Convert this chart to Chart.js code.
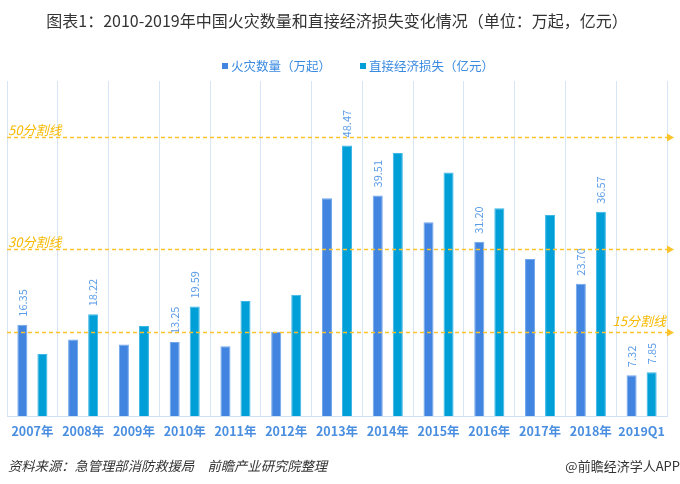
<!DOCTYPE html>
<html>
<head>
<meta charset="utf-8">
<script src="https://cdn.jsdelivr.net/npm/chart.js@4"></script>
<style>
  html, body { margin: 0; padding: 0; background: #fff; }
  #wrap { width: 680px; height: 484px; }
</style>
</head>
<body>
<div id="wrap"><canvas id="myChart" width="680" height="484"></canvas></div>
<script>
const FONT = '"Noto Sans CJK SC", "Noto Sans", sans-serif';

const years = ['2007年', '2008年', '2009年', '2010年', '2011年', '2012年', '2013年',
  '2014年', '2015年', '2016年', '2017年', '2018年', '2019Q1'];
const fireCount = [16.35, 13.7, 12.8, 13.25, 12.5, 15.1, 39.0, 39.51, 34.7, 31.20, 28.1, 23.70, 7.32];
const economicLoss = [11.1, 18.22, 16.1, 19.59, 20.6, 21.7, 48.47, 47.1, 43.6, 37.2, 36.0, 36.57, 7.85];
// which bars carry a value label
const fireLabelIdx = [0, 3, 7, 9, 11, 12];
const lossLabelIdx = [1, 3, 6, 11, 12];
// dashed reference lines
const splitValues = [50, 30, 15];
const splitNames = ['50分割线', '30分割线', '15分割线'];

const blue = '#4285e0';
const cyan = '#009fd8';

// title + legend, drawn by hand so they can sit where the original has them
const header = {
  id: 'header',
  afterDraw(chart) {
    const ctx = chart.ctx;
    ctx.save();
    ctx.fillStyle = '#333';
    ctx.font = '16px ' + FONT;
    ctx.textAlign = 'center';
    ctx.textBaseline = 'middle';
    ctx.fillText('图表1：2010-2019年中国火灾数量和直接经济损失变化情况（单位：万起，亿元）', 337, 21);

    ctx.font = '12.5px ' + FONT;
    ctx.textAlign = 'left';
    let x = 222;
    chart.data.datasets.forEach(ds => {
      ctx.fillStyle = ds.backgroundColor;
      ctx.fillRect(x, 63, 6, 6);
      ctx.fillStyle = '#3a8ae0';
      ctx.fillText(ds.label, x + 9, 66);
      x += 138;
    });
    ctx.restore();
  }
};

// value labels, rotated, above the bars
const valueLabels = {
  id: 'valueLabels',
  afterDatasetsDraw(chart) {
    const ctx = chart.ctx;
    const sets = [fireLabelIdx, lossLabelIdx];
    ctx.save();
    ctx.font = '11px ' + FONT;
    ctx.fillStyle = '#5a9be6';
    ctx.textAlign = 'left';
    ctx.textBaseline = 'middle';
    sets.forEach((idxs, d) => {
      const meta = chart.getDatasetMeta(d);
      idxs.forEach(i => {
        const bar = meta.data[i];
        const v = chart.data.datasets[d].data[i];
        ctx.save();
        ctx.translate(bar.x, bar.y - 8);
        ctx.rotate(-Math.PI / 2);
        ctx.fillText(v.toFixed(2), 0, 0);
        ctx.restore();
      });
    });
    ctx.restore();
  }
};

// dashed split lines with arrow heads
const splitLines = {
  id: 'splitLines',
  afterDatasetsDraw(chart) {
    const ctx = chart.ctx;
    const area = chart.chartArea;
    const y = chart.scales.y;
    ctx.save();
    splitValues.forEach((v, k) => {
      const py = Math.round(y.getPixelForValue(v)) + 0.5;
      ctx.strokeStyle = '#fcc32c';
      ctx.lineWidth = 1.5;
      ctx.setLineDash([4, 3]);
      ctx.beginPath();
      ctx.moveTo(area.left, py);
      ctx.lineTo(area.right + 1, py);
      ctx.stroke();
      ctx.setLineDash([]);
      ctx.fillStyle = '#fcc32c';
      ctx.beginPath();
      ctx.moveTo(area.right, py - 4);
      ctx.lineTo(area.right + 7, py);
      ctx.lineTo(area.right, py + 4);
      ctx.closePath();
      ctx.fill();
      ctx.font = 'italic 13px ' + FONT;
      ctx.fillStyle = '#f7b900';
      ctx.textBaseline = 'alphabetic';
      if (k < 2) {
        ctx.textAlign = 'left';
        ctx.fillText(splitNames[k], area.left + 1, py - 3);
      } else {
        ctx.textAlign = 'right';
        ctx.fillText(splitNames[k], area.right - 1, py - 7);
      }
    });
    ctx.restore();
  }
};

// source line at the bottom
const footer = {
  id: 'footer',
  afterDraw(chart) {
    const ctx = chart.ctx;
    ctx.save();
    ctx.fillStyle = '#333';
    ctx.textBaseline = 'middle';
    ctx.font = 'italic 13.3px ' + FONT;
    ctx.textAlign = 'left';
    ctx.fillText('资料来源：急管理部消防救援局　前瞻产业研究院整理', 8, 466);
    ctx.font = '13px ' + FONT;
    ctx.textAlign = 'right';
    ctx.fillText('@前瞻经济学人APP', 680, 466);
    ctx.restore();
  }
};

const ctx = document.getElementById('myChart').getContext('2d');
const myChart = new Chart(ctx, {
  type: 'bar',
  data: {
    labels: years,
    datasets: [{
      label: '火灾数量（万起）',
      data: fireCount,
      backgroundColor: blue,
      borderColor: '#6fa6ec',
      borderWidth: 1,
      barPercentage: 0.5,
      categoryPercentage: 0.79
    }, {
      label: '直接经济损失（亿元）',
      data: economicLoss,
      backgroundColor: cyan,
      borderColor: '#3cb6e6',
      borderWidth: 1,
      barPercentage: 0.5,
      categoryPercentage: 0.79
    }]
  },
  options: {
    responsive: false,
    animation: false,
    layout: { padding: { left: 7, right: 13, top: 81, bottom: 37 } },
    plugins: {
      title: { display: false },
      legend: { display: false },
      tooltip: { enabled: false }
    },
    scales: {
      x: {
        grid: { display: true, offset: true, color: '#d8e5f6', drawTicks: false },
        border: { display: true, color: '#cfdff4' },
        ticks: {
          color: '#4a8ee0',
          font: { family: FONT, size: 12.5, weight: 'bold' },
          padding: 8,
          maxRotation: 0,
          autoSkip: false
        }
      },
      y: {
        display: false,
        min: 0,
        max: 60
      }
    }
  },
  plugins: [valueLabels, splitLines, header, footer]
});
</script>
</body>
</html>
